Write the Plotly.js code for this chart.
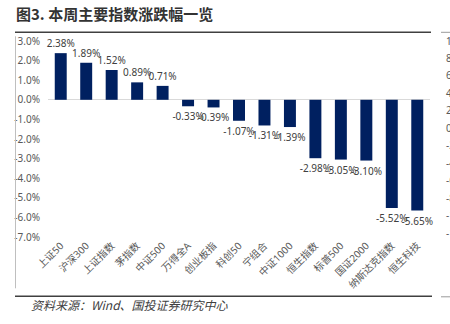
<!DOCTYPE html>
<html>
<head>
<meta charset="utf-8">
<script src="https://cdn.plot.ly/plotly-3.0.1.min.js"></script>
<style>
html,body{margin:0;padding:0;background:#fff;overflow:hidden;}
#chart{width:450px;height:324px;}
</style>
</head>
<body>
<div id="chart"></div>
<script>
// Data
const categories = ["上证50","沪深300","上证指数","茅指数","中证500","万得全A","创业板指","科创50","宁组合","中证1000","恒生指数","标普500","国证2000","纳斯达克指数","恒生科技"];
const changes = [2.38, 1.89, 1.52, 0.89, 0.71, -0.33, -0.39, -1.07, -1.31, -1.39, -2.98, -3.05, -3.10, -5.52, -5.65];
const leftTicks = [3, 2, 1, 0, -1, -2, -3, -4, -5, -6, -7];
const rightTicks = [10, 8, 6, 4, 2, 0, -2, -4, -6, -8, -10, -12];

const titleText = "图3. 本周主要指数涨跌幅一览";
const sourceText = "资料来源：Wind、国投证券研究中心";

const fmtPct = v => (v < 0 ? "-" : "") + Math.abs(v).toFixed(1) + "%";
const fmtLbl = v => (v < 0 ? "-" : "") + Math.abs(v).toFixed(2) + "%";
const fmtNum = v => (v < 0 ? "-" : "") + Math.abs(v);

// pixel geometry helpers
const W = 450, H = 324;
const mL = 48, mR = 20, mT = 40.7, mB = 87.3;
const pw = W - mL - mR, ph = H - mT - mB;
const px = x => (x - mL) / pw;
const py = y => (H - mB - y) / ph;

const FONT = "Noto Sans, Noto Sans CJK SC, sans-serif";

const bars = {
  type: "bar",
  x: categories,
  y: changes,
  width: 0.47,
  marker: {color: "#002060", line: {width: 0}},
  text: changes.map(fmtLbl),
  textposition: "outside",
  constraintext: "none",
  cliponaxis: false,
  textfont: {family: FONT, size: 10, color: "#404040"},
  hoverinfo: "skip"
};
const ghost = {
  type: "scatter", x: [categories[0]], y: [0], yaxis: "y2",
  mode: "markers", marker: {opacity: 0}, hoverinfo: "skip", showlegend: false
};

const layout = {
  width: W, height: H,
  margin: {l: mL, r: mR, t: mT, b: mB, pad: 0},
  paper_bgcolor: "#fff", plot_bgcolor: "#fff",
  showlegend: false,
  font: {family: FONT, size: 10, color: "#595959"},
  xaxis: {
    type: "category",
    range: [-0.5, categories.length - 0.5],
    tickangle: -45,
    showline: false, showgrid: false, zeroline: false,
    ticks: "", tickfont: {family: FONT, size: 10, color: "#595959"}
  },
  yaxis: {
    range: [-7, 3],
    tickvals: leftTicks,
    ticktext: leftTicks.map(fmtPct),
    showgrid: false, showline: false,
    zeroline: true, zerolinecolor: "#d9d9d9", zerolinewidth: 1,
    ticks: "outside", ticklen: 5, tickcolor: "rgba(0,0,0,0)",
    tickfont: {family: FONT, size: 10, color: "#595959"}
  },
  yaxis2: {
    overlaying: "y", side: "right", anchor: "x",
    range: [-12.42, 10],
    tickvals: rightTicks,
    ticktext: rightTicks.map(fmtNum),
    showgrid: false, showline: false, zeroline: false,
    ticks: "outside", ticklen: 13, tickcolor: "rgba(0,0,0,0)",
    tickfont: {family: FONT, size: 10, color: "#595959"}
  },
  shapes: [
    {type: "line", xref: "paper", yref: "paper", x0: px(15), x1: px(431), y0: py(32), y1: py(32), line: {color: "#404040", width: 1.5}},
    {type: "line", xref: "paper", yref: "paper", x0: px(441), x1: px(452), y0: py(32), y1: py(32), line: {color: "#9a9a9a", width: 1}},
    {type: "line", xref: "paper", yref: "paper", x0: px(15.5), x1: px(15.5), y0: py(36), y1: py(288), line: {color: "#bfbfbf", width: 1}},
    {type: "line", xref: "paper", yref: "paper", x0: px(15), x1: px(432), y0: py(296), y1: py(296), line: {color: "#404040", width: 1.5}},
    {type: "line", xref: "paper", yref: "paper", x0: px(441), x1: px(452), y0: py(296.5), y1: py(296.5), line: {color: "#9a9a9a", width: 1}}
  ],
  annotations: [
    {text: "<b>" + titleText + "</b>", xref: "paper", yref: "paper", x: px(14), y: py(13),
     xanchor: "left", yanchor: "middle", showarrow: false,
     font: {family: "Noto Sans CJK SC, sans-serif", size: 15, color: "#333333"}},
    {text: "<i>" + sourceText + "</i>", xref: "paper", yref: "paper", x: px(29), y: py(304),
     xanchor: "left", yanchor: "middle", showarrow: false,
     font: {family: "Noto Sans CJK SC, sans-serif", size: 12, color: "#404040"}}
  ]
};

Plotly.newPlot("chart", [bars, ghost], layout, {displayModeBar: false, staticPlot: true});
</script>
</body>
</html>
